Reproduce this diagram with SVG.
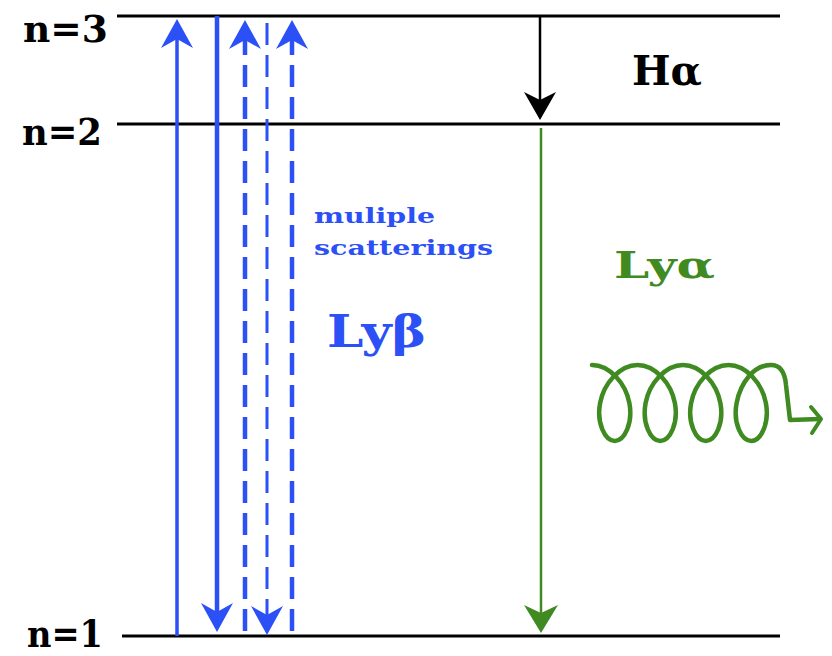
<svg xmlns="http://www.w3.org/2000/svg" width="832" height="656" viewBox="0 0 832 656">
  <style>
    .level { stroke: #000; stroke-width: 3; fill: none; }
    .lbl { font-family: "DejaVu Serif", "Liberation Serif", serif; font-weight: bold; }
    .blue { stroke: #2b50f5; fill: none; }
    .dash { stroke-dasharray: 22 10; }
    .green { stroke: #3f8b22; fill: none; }
  </style>
  <defs>
    <marker id="hb" markerUnits="userSpaceOnUse" markerWidth="40" markerHeight="40" refX="-18" refY="0" orient="auto" overflow="visible">
      <path d="M0,0 L-29,-16 L-20,0 L-29,16 Z" fill="#2b50f5"/>
    </marker>
    <marker id="hk" markerUnits="userSpaceOnUse" markerWidth="40" markerHeight="40" refX="-18" refY="0" orient="auto" overflow="visible">
      <path d="M0,0 L-28,-16 L-20,0 L-28,16 Z" fill="#000"/>
    </marker>
    <marker id="hg" markerUnits="userSpaceOnUse" markerWidth="40" markerHeight="40" refX="-18" refY="0" orient="auto" overflow="visible">
      <path d="M0,0 L-28,-17 L-20,0 L-28,17 Z" fill="#3f8b22"/>
    </marker>
  </defs>
  <rect width="832" height="656" fill="#fff"/>

  <g id="level-n3">
    <line class="level" x1="117" y1="16" x2="780" y2="16"/>
    <text class="lbl" x="23" y="42" font-size="37" fill="#000" textLength="85" lengthAdjust="spacingAndGlyphs">n=3</text>
  </g>
  <g id="level-n2">
    <line class="level" x1="117" y1="124" x2="780" y2="124"/>
    <text class="lbl" x="22" y="145" font-size="37" fill="#000" textLength="80" lengthAdjust="spacingAndGlyphs">n=2</text>
  </g>
  <g id="level-n1">
    <line class="level" x1="122" y1="636" x2="780" y2="636"/>
    <text class="lbl" x="27" y="647" font-size="37" fill="#000" textLength="76" lengthAdjust="spacingAndGlyphs">n=1</text>
  </g>

  <g id="connectors">
    <path class="blue" stroke-width="3.5" d="M177,636 L177,37" marker-end="url(#hb)"/>
    <path class="blue" stroke-width="4.5" d="M217,16 L217,614" marker-end="url(#hb)"/>
    <path class="blue dash" stroke-width="4.5" d="M245,631 L245,38" marker-end="url(#hb)"/>
    <path class="blue dash" stroke-width="3" d="M267,23 L267,617" marker-end="url(#hb)"/>
    <path class="blue dash" stroke-width="4.5" d="M292,631 L292,38" marker-end="url(#hb)"/>
    <path stroke="#000" stroke-width="2.5" fill="none" d="M540,16 L540,102" marker-end="url(#hk)"/>
    <path class="green" stroke-width="2.5" d="M541,128 L541,615" marker-end="url(#hg)"/>
  </g>

  <g id="label-halpha">
    <text class="lbl" x="632" y="85" font-size="41" fill="#000" textLength="70" lengthAdjust="spacingAndGlyphs">Hα</text>
  </g>
  <g id="label-scatter">
    <text class="lbl" x="314" y="223" font-size="20" fill="#2b50f5" textLength="121" lengthAdjust="spacingAndGlyphs">muliple</text>
    <text class="lbl" x="314" y="255" font-size="20" fill="#2b50f5" textLength="179" lengthAdjust="spacingAndGlyphs">scatterings</text>
  </g>
  <g id="label-lybeta">
    <text class="lbl" x="327" y="347" font-size="44" fill="#2b50f5" textLength="99" lengthAdjust="spacingAndGlyphs">Lyβ</text>
  </g>
  <g id="label-lyalpha">
    <text class="lbl" x="614" y="278" font-size="38" fill="#3f8b22" textLength="101" lengthAdjust="spacingAndGlyphs">Lyα</text>
  </g>

  <g id="photon">
    <path class="green" stroke-width="4.5" stroke-linecap="round" stroke-linejoin="round"
      d="M592,365
         c 17.4,0 33.58,18.1 37.37,38 c 3.79,19.9 -4.8,38 -14.62,38 c -9.82,0 -18.42,-18.1 -14.63,-38 c 3.79,-19.9 19.98,-38 37.38,-38
         c 17.4,0 33.58,18.1 37.37,38 c 3.79,19.9 -4.8,38 -14.62,38 c -9.82,0 -18.42,-18.1 -14.63,-38 c 3.79,-19.9 19.98,-38 37.38,-38
         c 17.4,0 33.58,18.1 37.37,38 c 3.79,19.9 -4.8,38 -14.62,38 c -9.82,0 -18.42,-18.1 -14.63,-38 c 3.79,-19.9 19.98,-38 37.38,-38
         c 17.4,0 33.58,18.1 37.37,38 c 3.79,19.9 -4.8,38 -14.62,38 c -9.82,0 -18.42,-18.1 -14.63,-38 c 3.79,-19.9 16.98,-38 34.38,-38
         c 10,0 14,8 15,20 L 790,420 L 820,419"/>
    <path class="green" stroke-width="4" stroke-linecap="round" stroke-linejoin="round" d="M811,407 L821,419 L812,433"/>
  </g>
</svg>
